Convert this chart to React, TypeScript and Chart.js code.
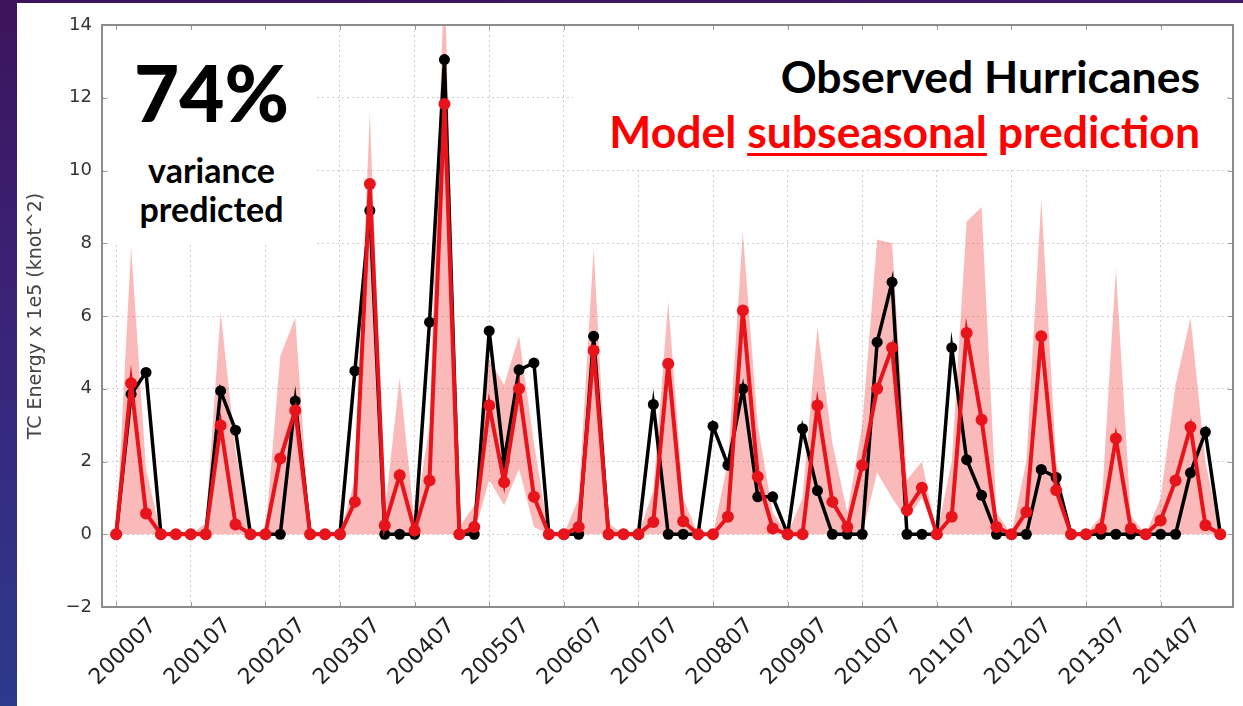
import React, { useEffect, useRef } from 'react';
import { Chart, registerables } from 'chart.js';

Chart.register(...registerables);

// Tick labels (one per July, every 5th point: Jul..Nov each year)
const tickLabels = [
  '200007', '200107', '200207', '200307', '200407', '200507', '200607', '200707',
  '200807', '200907', '201007', '201107', '201207', '201307', '201407',
];

// Observed hurricanes TC energy (x 1e5 knot^2), Jul-Nov of each year 2000-2014
const observed = [
  0, 3.85, 4.45, 0, 0,
  0, 0, 3.94, 2.86, 0,
  0, 0, 3.66, 0, 0,
  0, 4.49, 8.9, 0, 0,
  0, 5.83, 13.05, 0, 0,
  5.59, 2.0, 4.52, 4.71, 0,
  0, 0, 5.44, 0, 0,
  0, 3.57, 0, 0, 0,
  2.97, 1.9, 4.0, 1.03, 1.03,
  0, 2.9, 1.2, 0, 0,
  0, 5.28, 6.93, 0, 0,
  0, 5.13, 2.05, 1.07, 0,
  0, 0, 1.78, 1.56, 0,
  0, 0, 0, 0, 0,
  0, 0, 1.69, 2.81, 0,
];

// Model subseasonal prediction (ensemble mean)
const model = [
  0, 4.15, 0.57, 0, 0,
  0, 0, 2.99, 0.27, 0,
  0, 2.08, 3.4, 0, 0,
  0, 0.89, 9.63, 0.25, 1.62,
  0.1, 1.48, 11.83, 0, 0.2,
  3.54, 1.43, 4.0, 1.03, 0,
  0, 0.2, 5.05, 0, 0,
  0, 0.34, 4.69, 0.36, 0,
  0, 0.48, 6.15, 1.58, 0.16,
  0, 0, 3.54, 0.89, 0.2,
  1.9, 4.0, 5.13, 0.66, 1.28,
  0, 0.48, 5.53, 3.15, 0.2,
  0, 0.61, 5.44, 1.21, 0,
  0, 0.16, 2.63, 0.16, 0,
  0.38, 1.48, 2.95, 0.25, 0,
];

// Model ensemble spread (shaded band)
const bandUpper = [
  0, 7.9, 1.8, 0, 0,
  0, 0.3, 6.1, 2.3, 0,
  0, 4.9, 5.95, 0, 0,
  0, 1.5, 11.6, 0.6, 4.3,
  0.3, 3.0, 15.5, 0.2, 0.8,
  4.8, 4.1, 5.45, 2.5, 0,
  0, 1.0, 7.85, 0.3, 0,
  0, 1.2, 6.4, 1.0, 0,
  0, 2.0, 8.3, 3.0, 0.6,
  0, 1.0, 5.7, 2.5, 0.6,
  3.0, 8.1, 8.0, 1.5, 2.0,
  0, 2.0, 8.6, 9.0, 0.6,
  0, 2.0, 9.2, 2.0, 0,
  0, 0.5, 7.3, 0.5, 0,
  1.0, 4.1, 5.95, 2.0, 0,
];

const bandLower = [
  0, 0, 0, 0, 0,
  0, 0, 0, 0, 0,
  0, 0, 0, 0, 0,
  0, 0, 0, 0, 0,
  0, 0, 0, 0, 0,
  1.5, 0.8, 1.8, 0.2, 0,
  0, 0, 0, 0, 0,
  0, 0, 0, 0, 0,
  0, 0, 0, 0, 0,
  0, 0, 0, 0, 0,
  0, 1.7, 1.0, 0.4, 1.0,
  0, 0, 0, 0, 0,
  0, 0, 0, 0, 0,
  0, 0, 0, 0, 0,
  0, 0, 0, 0, 0,
];

const toPoints = (arr: number[]) => arr.map((v, i) => ({ x: i, y: v }));

const RED = '#e8141b';

const framePlugin = {
  id: 'frameAndBg',
  beforeDraw(chart: any) {
    const { ctx, width, height } = chart;
    ctx.save();
    ctx.fillStyle = '#ffffff';
    ctx.fillRect(0, 0, width, height);
    ctx.restore();
  },
  afterDraw(chart: any) {
    const { ctx, chartArea } = chart;
    const { left, top, right, bottom } = chartArea;
    const xs = chart.scales.x;
    const ys = chart.scales.y;
    ctx.save();
    ctx.strokeStyle = '#9a9a9a';
    ctx.lineWidth = 1;
    ctx.beginPath();
    xs.ticks.forEach((t: any) => {
      const px = Math.round(xs.getPixelForValue(t.value)) + 0.5;
      ctx.moveTo(px, top); ctx.lineTo(px, top + 5);
      ctx.moveTo(px, bottom); ctx.lineTo(px, bottom - 5);
    });
    ys.ticks.forEach((t: any) => {
      const py = Math.round(ys.getPixelForValue(t.value)) + 0.5;
      ctx.moveTo(left, py); ctx.lineTo(left + 5, py);
      ctx.moveTo(right, py); ctx.lineTo(right - 5, py);
    });
    ctx.stroke();
    ctx.strokeStyle = '#8c8c8c';
    ctx.lineWidth = 2;
    ctx.strokeRect(left, top, right - left, bottom - top);
    ctx.restore();
  },
};

function HurricaneChart() {
  const canvasRef = useRef<HTMLCanvasElement | null>(null);

  useEffect(() => {
    const canvas = canvasRef.current;
    if (!canvas) return;
    const chart = new Chart(canvas, {
      type: 'line',
      data: {
        datasets: [
          {
            label: 'Observed',
            data: toPoints(observed),
            borderColor: '#000000',
            backgroundColor: '#000000',
            borderWidth: 3.5,
            pointRadius: 5.5,
            pointHoverRadius: 5.5,
            pointBorderWidth: 0,
            tension: 0,
            fill: false,
            order: 1,
          },
          {
            label: 'Model',
            data: toPoints(model),
            borderColor: RED,
            backgroundColor: RED,
            borderWidth: 4,
            pointRadius: 6,
            pointHoverRadius: 6,
            pointBorderWidth: 0,
            tension: 0,
            fill: false,
            order: 0,
          },
          {
            label: 'Upper',
            data: toPoints(bandUpper),
            borderColor: 'rgba(0,0,0,0)',
            borderWidth: 0,
            pointRadius: 0,
            backgroundColor: 'rgba(238,40,40,0.32)',
            fill: '+1',
            tension: 0,
            order: 2,
          },
          {
            label: 'Lower',
            data: toPoints(bandLower),
            borderColor: 'rgba(0,0,0,0)',
            borderWidth: 0,
            pointRadius: 0,
            backgroundColor: 'rgba(0,0,0,0)',
            fill: false,
            tension: 0,
            order: 3,
          },
        ],
      },
      options: {
        responsive: false,
        animation: false,
        events: [],
        layout: { padding: { top: 22, right: 10, left: 0, bottom: 0 } },
        plugins: {
          legend: { display: false },
          tooltip: { enabled: false },
          title: { display: false },
        },
        scales: {
          x: {
            type: 'linear',
            min: -0.95,
            max: 74.85,
            afterFit: (scale: any) => { scale.height = 99; },
            grid: {
              color: '#cfcfcf',
              lineWidth: 1,
              drawTicks: false,
            },
            border: { display: false, dash: [2, 3] },
            ticks: {
              stepSize: 5,
              includeBounds: false,
              autoSkip: false,
              minRotation: 45,
              maxRotation: 45,
              padding: 6,
              labelOffset: 37,
              color: '#222222',
              font: { family: '"DejaVu Sans", sans-serif', size: 22 },
              callback: (value: any) => {
                const idx = Math.round(Number(value) / 5);
                return Number(value) % 5 === 0 ? tickLabels[idx] ?? '' : '';
              },
            },
          },
          y: {
            min: -2,
            max: 14,
            afterFit: (scale: any) => { scale.width = 85; },
            grid: {
              color: '#cfcfcf',
              lineWidth: 1,
              drawTicks: false,
            },
            border: { display: false, dash: [2, 3] },
            ticks: {
              stepSize: 2,
              padding: 10,
              color: '#333333',
              font: { family: '"DejaVu Sans", sans-serif', size: 18 },
              callback: (value: any) => {
                const v = Number(value);
                return v < 0 ? '\u2212' + Math.abs(v) : String(v);
              },
            },
            title: {
              display: true,
              text: 'TC Energy x 1e5 (knot^2)',
              color: '#444444',
              font: { family: '"DejaVu Sans", sans-serif', size: 19 },
              padding: { top: 8, bottom: 4 },
            },
          },
        },
      },
      plugins: [framePlugin],
    } as any);
    return () => chart.destroy();
  }, []);

  return (
    <canvas
      ref={canvasRef}
      width={1226}
      height={703}
      style={{ position: 'absolute', left: 17, top: 3, width: 1226, height: 703 }}
    />
  );
}

export default function App() {
  const textFont = 'Lato, "Open Sans", "Noto Sans", sans-serif';
  return (
    <div
      style={{
        position: 'fixed',
        left: 0,
        top: 0,
        width: 1243,
        height: 706,
        background: '#ffffff',
        overflow: 'hidden',
      }}
    >
      <div
        style={{
          position: 'absolute', left: 0, top: 0, width: 17, height: 706,
          background: 'linear-gradient(180deg, #3d145c 0%, #3a2378 45%, #2c3a8c 100%)',
        }}
      />
      <div
        style={{
          position: 'absolute', left: 0, top: 0, width: 1243, height: 3,
          background: 'linear-gradient(90deg, #3d145c 0%, #3e1a6a 100%)',
        }}
      />
      <HurricaneChart />
      {/* left annotation box */}
      <div
        style={{
          position: 'absolute', left: 108, top: 30, width: 207, height: 215,
          background: '#ffffff', fontFamily: textFont, color: '#000000', fontWeight: 700,
        }}
      >
        <div style={{ position: 'absolute', left: 0, top: 23, width: 207, textAlign: 'center', fontSize: 78, lineHeight: '78px', fontWeight: 900 }}>
          74%
        </div>
        <div style={{ position: 'absolute', left: 0, top: 123, width: 207, textAlign: 'center', fontSize: 34, lineHeight: '34px' }}>
          variance
        </div>
        <div style={{ position: 'absolute', left: 0, top: 162, width: 207, textAlign: 'center', fontSize: 34, lineHeight: '34px' }}>
          predicted
        </div>
      </div>
      {/* right annotation box */}
      <div
        style={{
          position: 'absolute', left: 573, top: 30, width: 652, height: 138,
          background: '#ffffff', fontFamily: textFont, fontWeight: 700,
        }}
      >
        <div style={{ position: 'absolute', right: 25, top: 24, whiteSpace: 'nowrap', fontSize: 44.5, lineHeight: '44.5px', color: '#000000' }}>
          Observed Hurricanes
        </div>
        <div style={{ position: 'absolute', right: 25, top: 79, whiteSpace: 'nowrap', fontSize: 44.5, lineHeight: '44.5px', color: '#ff0000' }}>
          Model{' '}
          <span style={{ textDecoration: 'underline', textDecorationThickness: 3, textUnderlineOffset: 5 }}>subseasonal</span>{' '}
          prediction
        </div>
      </div>
    </div>
  );
}
